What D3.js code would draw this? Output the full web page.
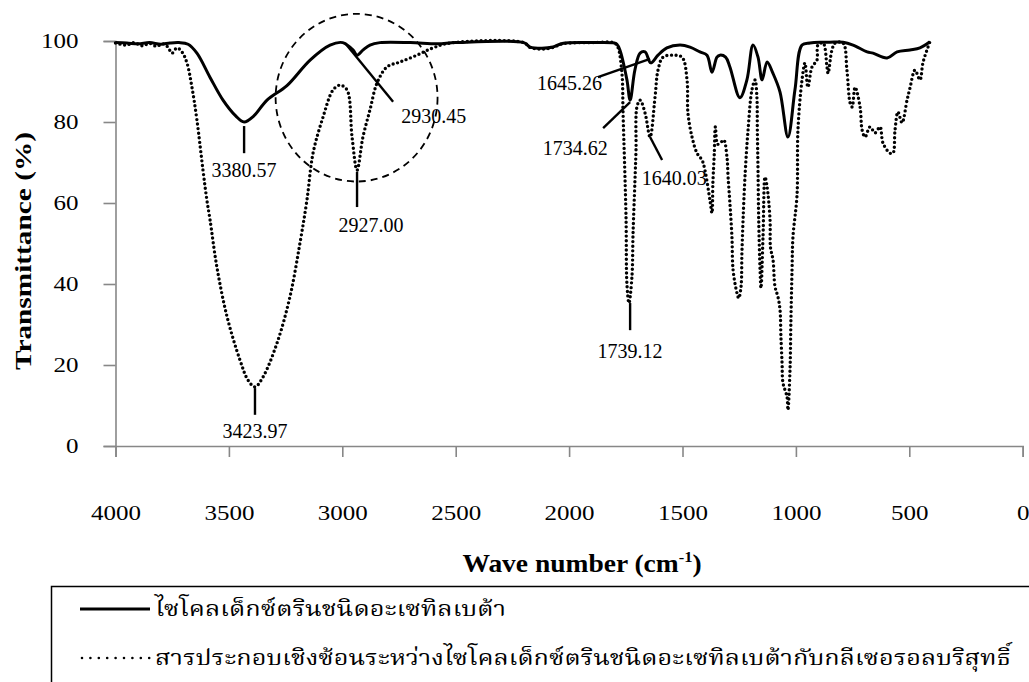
<!DOCTYPE html>
<html>
<head>
<meta charset="utf-8">
<script src="https://cdn.jsdelivr.net/npm/d3@7"></script>
<style>
	body { margin: 0; background: #fff; }
	text { font-family: 'Liberation Serif', 'Times New Roman', serif; fill: #000; }
	.thai { font-family: 'Noto Serif Thai', 'Noto Sans Thai Looped', 'Noto Sans Thai', 'Norasi', 'Loma', serif; }
</style>
</head>
<body>
<svg id="chart" width="1029" height="682"></svg>
<script>
// solid: beta-cyclodextrin acetate
var waveA = [ 4000, 3950, 3900, 3850, 3800, 3760, 3720, 3680, 3641, 3583, 3526, 3470, 3433, 3390, 3332, 3244, 3142, 3054, 2998, 2953, 2935, 2908, 2878, 2834, 2700, 2580, 2500, 2200, 2172, 2120, 2071, 2030, 1900, 1800, 1789, 1776, 1745, 1731, 1710, 1687, 1665, 1640, 1608, 1569, 1511, 1467, 1423, 1392, 1370, 1348, 1335, 1310, 1291, 1247, 1216, 1189, 1167, 1149, 1127, 1101, 1070, 1035, 1004, 973, 938, 894, 850, 792, 748, 686, 660, 598, 554, 497, 453, 409 ];
var transA = [ 99.6, 99.5, 99.3, 99.6, 99.2, 99.5, 99.6, 99.2, 97, 91, 85.4, 81.5, 80, 81.5, 85.4, 89, 95.3, 99, 99.6, 97.8, 96.5, 97.8, 99, 99.6, 99.6, 99.3, 99.6, 99.6, 98.5, 98.2, 98.5, 99.4, 99.6, 99.5, 99.2, 97.8, 90.4, 85.4, 92.8, 97, 97.3, 94.6, 96.5, 98.3, 99, 98.5, 97.3, 96.5, 92.3, 96, 96.5, 96, 93.6, 86, 90.4, 99, 96, 90.4, 94.8, 92, 87.4, 76.3, 88, 99, 99.5, 99.7, 99.7, 99.7, 99, 97.3, 97, 95.8, 97.3, 97.8, 98.3, 99.8 ];

// dotted: inclusion complex with pure glycerol
var waveB = [ 4000, 3950, 3920, 3880, 3850, 3820, 3790, 3769, 3751, 3729, 3707, 3685, 3663, 3641, 3614, 3597, 3583, 3553, 3508, 3451, 3416, 3385, 3350, 3288, 3231, 3187, 3156, 3129, 3085, 3041, 3010, 2979, 2957, 2935, 2909, 2878, 2847, 2803, 2746, 2671, 2600, 2525, 2200, 2172, 2120, 2071, 2030, 1900, 1800, 1785, 1767, 1762, 1749, 1745, 1736, 1723, 1718, 1710, 1705, 1701, 1687, 1665, 1643, 1621, 1608, 1586, 1542, 1502, 1480, 1476, 1458, 1436, 1414, 1401, 1379, 1370, 1366, 1360, 1355, 1345, 1330, 1318, 1304, 1299, 1291, 1282, 1277, 1260, 1252, 1242, 1238, 1233, 1224, 1211, 1194, 1180, 1172, 1170, 1167, 1164, 1158, 1154, 1145, 1136, 1127, 1114, 1112, 1101, 1092, 1079, 1070, 1066, 1061, 1057, 1039, 1035, 1026, 1022, 1017, 1013, 995, 991, 973, 960, 947, 929, 907, 903, 880, 863, 858, 841, 827, 792, 775, 761, 752, 739, 717, 708, 695, 673, 651, 629, 616, 585, 572, 563, 550, 532, 510, 497, 475, 453, 440, 422, 409 ];
var transB = [ 99.5, 99, 99.6, 98.8, 99.4, 98.7, 99.3, 98.5, 97, 98.3, 97.3, 94.6, 88.6, 80.5, 68, 60.7, 55.8, 44.2, 31.9, 21.2, 16.3, 14.6, 17, 25.4, 36.8, 50, 60.7, 72.3, 81.2, 87.9, 89.1, 87.9, 76.3, 68.1, 76.3, 83, 89.6, 93.6, 94.8, 96.5, 98.3, 99.5, 99.6, 98.4, 98, 98.4, 99.3, 99.6, 99.5, 98.5, 92, 82, 56.5, 40, 35.3, 41.7, 52.6, 65, 73, 83.7, 85.4, 82.2, 76.3, 86.2, 92.8, 96, 96.5, 96, 90.4, 82.2, 76.3, 72.3, 70.6, 68.1, 60.7, 57.5, 65, 72, 78.8, 74.5, 75, 75.6, 71.4, 66.4, 60, 51.6, 43.5, 37.8, 36.5, 39.3, 47.7, 55.8, 67, 78, 87.9, 90.4, 86.2, 78, 68, 55.8, 43.5, 39, 51.6, 66.4, 64, 55.8, 49, 46, 39.3, 36.8, 33.6, 27, 20.5, 15.6, 12.1, 8.9, 18.8, 31, 43.5, 51.6, 62, 78, 90.4, 94.6, 88.6, 93.6, 95.3, 99, 99.5, 93.6, 92, 97.8, 99.5, 99.5, 92.8, 84.7, 83.7, 88.6, 83.7, 78, 76.3, 78.8, 77.3, 78.8, 74.8, 72.3, 72.3, 78, 82.5, 79.8, 85.4, 88.4, 92.8, 90.4, 94.6, 97.8, 99.8 ];

var xTicks = [ 4000, 3500, 3000, 2500, 2000, 1500, 1000, 500, 0 ];
var yTicks = [ 0, 20, 40, 60, 80, 100 ];

// peak labels: text, leader from (w1,t1) to (w2,t2), label at (lw,lt)
var peakText = [ '3380.57', '3423.97', '2927.00', '2930.45', '1645.26', '1734.62', '1739.12', '1640.03' ];
var leadFrom = [ [ 3433, 79 ], [ 3385, 14.3 ], [ 2935, 67.7 ], [ 2988, 99.5 ], [ 1873, 91.1 ], [ 1850, 78.5 ], [ 1731, 35.3 ], [ 1643, 76.3 ] ];
var leadTo = [ [ 3433, 72.3 ], [ 3385, 7.7 ], [ 2935, 59 ], [ 2776, 85 ], [ 1643, 95.6 ], [ 1731, 84.9 ], [ 1731, 28.6 ], [ 1590, 70.6 ] ];
var labelAt = [ [ 3433, 66.4 ], [ 3385, 2 ], [ 2874, 52.8 ], [ 2740, 79.8 ], [ 1855, 87.9 ], [ 1830, 71.9 ], [ 1731, 21.7 ], [ 1680, 64.4 ] ];
var labelAnchor = [ 'middle', 'middle', 'middle', 'start', 'end', 'end', 'middle', 'start' ];

var legendNames = [ 'ไซโคลเด็กซ์ตรินชนิดอะเซทิลเบต้า', 'สารประกอบเชิงซ้อนระหว่างไซโคลเด็กซ์ตรินชนิดอะเซทิลเบต้ากับกลีเซอรอลบริสุทธิ์' ];

var svg = d3.select( '#chart' );

var x = d3.scaleLinear().domain( [ 4000, 0 ] ).range( [ 115.5, 1022.7 ] ),
	y = d3.scaleLinear().domain( [ 0, 100 ] ).range( [ 446, 41 ] );

// axes (tick labels are wide in the original, so stretch them)
var STRETCH = 1.25;

var gx = svg.append( 'g' )
	.attr( 'transform', 'translate(0,' + y( 0 ) + ')' )
	.call( d3.axisBottom( x ).tickValues( xTicks ).tickSize( 11 ).tickFormat( d3.format( 'd' ) ) );
gx.attr( 'font-family', null ).attr( 'font-size', null );
gx.selectAll( 'text' ).attr( 'y', 67 ).attr( 'dy', '0.35em' )
	.attr( 'transform', 'scale(' + STRETCH + ',1)' )
	.style( 'font-size', '20px' );

var gy = svg.append( 'g' )
	.attr( 'transform', 'translate(' + x( 4000 ) + ',0)' )
	.call( d3.axisLeft( y ).tickValues( yTicks ).tickSize( 12 ) );
gy.attr( 'font-family', null ).attr( 'font-size', null );
gy.selectAll( 'text' ).attr( 'x', -37 / STRETCH )
	.attr( 'transform', 'scale(' + STRETCH + ',1)' )
	.style( 'font-size', '20px' );

svg.selectAll( '.domain, .tick line' ).attr( 'stroke', '#878787' ).attr( 'stroke-width', 1.6 );

// axis titles
var xt = svg.append( 'text' )
	.attr( 'transform', 'translate(582,572) scale(1.1,1)' )
	.attr( 'text-anchor', 'middle' )
	.style( 'font-size', '25px' ).style( 'font-weight', 'bold' );
xt.append( 'tspan' ).text( 'Wave number (cm' );
xt.append( 'tspan' ).attr( 'dy', -10 ).style( 'font-size', '15px' ).text( '-1' );
xt.append( 'tspan' ).attr( 'dy', 10 ).text( ')' );

svg.append( 'text' )
	.attr( 'transform', 'translate(31,251) rotate(-90)' )
	.attr( 'text-anchor', 'middle' )
	.attr( 'textLength', 238 ).attr( 'lengthAdjust', 'spacingAndGlyphs' )
	.style( 'font-size', '23px' ).style( 'font-weight', 'bold' )
	.text( 'Transmittance (%)' );

// spectra
var line = d3.line()
	.x( function( d ) { return x( d[ 0 ] ); } )
	.y( function( d ) { return y( d[ 1 ] ); } )
	.curve( d3.curveCatmullRom.alpha( 0.5 ) );

var ptsA = waveA.map( function( w, i ) { return [ w, transA[ i ] ]; } ),
	ptsB = waveB.map( function( w, i ) { return [ w, transB[ i ] ]; } );

svg.append( 'path' ).datum( ptsB )
	.attr( 'd', line )
	.attr( 'fill', 'none' ).attr( 'stroke', '#000' )
	.attr( 'stroke-width', 3.4 ).attr( 'stroke-linecap', 'round' )
	.attr( 'stroke-dasharray', '0 4.6' );

svg.append( 'path' ).datum( ptsA )
	.attr( 'd', line )
	.attr( 'fill', 'none' ).attr( 'stroke', '#000' )
	.attr( 'stroke-width', 3 ).attr( 'stroke-linejoin', 'round' );

// dashed ring round the 2900 region
svg.append( 'ellipse' )
	.attr( 'cx', x( 2937 ) ).attr( 'cy', y( 86 ) )
	.attr( 'rx', x( 2937 - 357 ) - x( 2937 ) ).attr( 'ry', y( 86 ) - y( 106.7 ) )
	.attr( 'fill', 'none' ).attr( 'stroke', '#000' )
	.attr( 'stroke-width', 1.8 ).attr( 'stroke-dasharray', '7,5' );

// peak labels
peakText.forEach( function( t, i ) {
	svg.append( 'line' )
		.attr( 'x1', x( leadFrom[ i ][ 0 ] ) ).attr( 'y1', y( leadFrom[ i ][ 1 ] ) )
		.attr( 'x2', x( leadTo[ i ][ 0 ] ) ).attr( 'y2', y( leadTo[ i ][ 1 ] ) )
		.attr( 'stroke', '#000' ).attr( 'stroke-width', 2.4 );
	svg.append( 'text' )
		.attr( 'x', x( labelAt[ i ][ 0 ] ) ).attr( 'y', y( labelAt[ i ][ 1 ] ) )
		.attr( 'text-anchor', labelAnchor[ i ] )
		.style( 'font-size', '20px' )
		.text( t );
} );

// legend
svg.append( 'rect' )
	.attr( 'x', 51.5 ).attr( 'y', 586.5 ).attr( 'width', 1100 ).attr( 'height', 200 )
	.attr( 'fill', 'none' ).attr( 'stroke', '#000' ).attr( 'stroke-width', 1.5 );

var legY = [ 609, 658 ];
svg.append( 'line' )
	.attr( 'x1', 80 ).attr( 'x2', 150 ).attr( 'y1', legY[ 0 ] ).attr( 'y2', legY[ 0 ] )
	.attr( 'stroke', '#000' ).attr( 'stroke-width', 3 );
svg.append( 'line' )
	.attr( 'x1', 82 ).attr( 'x2', 150 ).attr( 'y1', legY[ 1 ] ).attr( 'y2', legY[ 1 ] )
	.attr( 'stroke', '#000' ).attr( 'stroke-width', 2.6 ).attr( 'stroke-linecap', 'round' )
	.attr( 'stroke-dasharray', '0 8.4' );

var legLen = [ 351, 856 ];
legendNames.forEach( function( n, i ) {
	svg.append( 'text' )
		.attr( 'class', 'thai' )
		.attr( 'x', 155 ).attr( 'y', legY[ i ] + 7 )
		.attr( 'textLength', legLen[ i ] ).attr( 'lengthAdjust', 'spacingAndGlyphs' )
		.style( 'font-size', '22px' )
		.text( n );
} );
</script>
</body>
</html>
